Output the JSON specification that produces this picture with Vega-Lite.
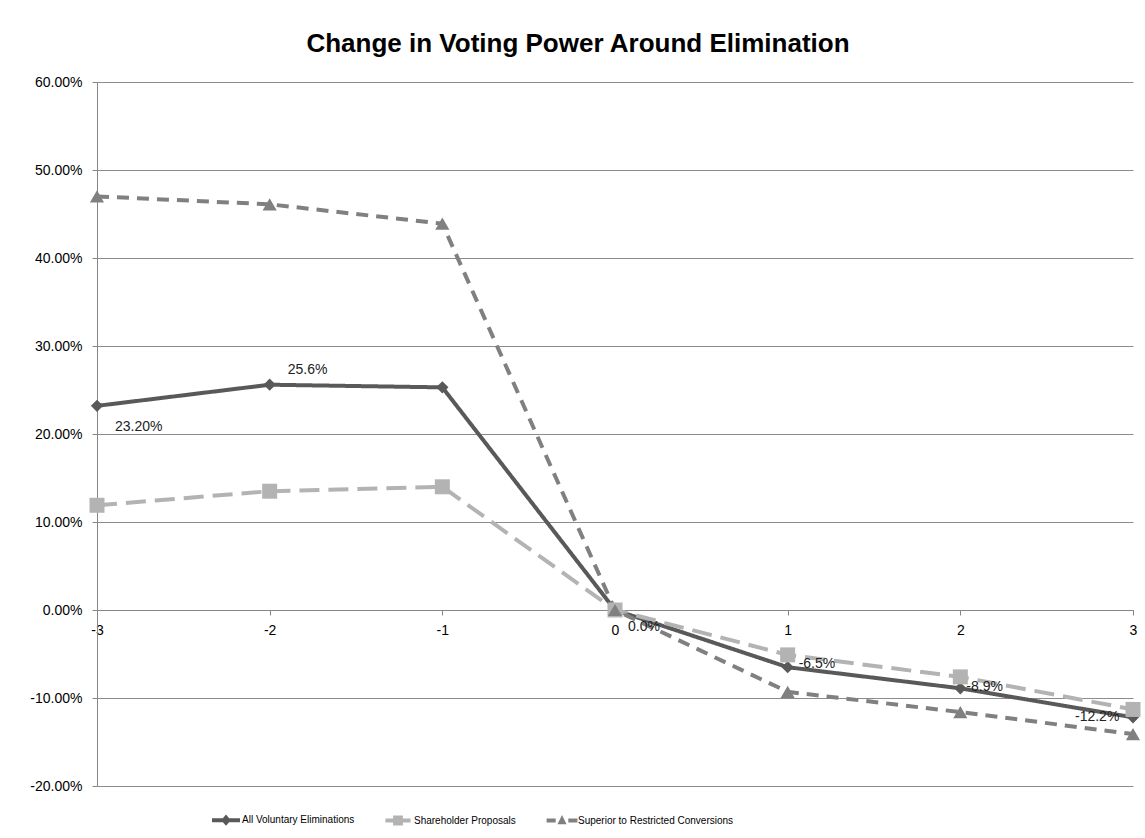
{
  "$schema": "https://vega.github.io/schema/vega-lite/v6.json",
  "width": 1036,
  "height": 704,
  "autosize": {"type": "none"},
  "padding": {"left": 97, "top": 82, "right": 12, "bottom": 52},
  "background": "white",
  "title": {
    "text": "Change in Voting Power Around Elimination",
    "font": "Liberation Sans",
    "fontSize": 26,
    "fontWeight": "bold",
    "color": "#000000",
    "anchor": "middle",
    "dx": -37,
    "offset": 18
  },
  "config": {
    "view": {"stroke": null},
    "font": "Liberation Sans"
  },
  "data": {
    "values": [
      {"series": "All Voluntary Eliminations", "t": -3, "v": 0.232, "label": "23.20%", "pos": "below"},
      {"series": "All Voluntary Eliminations", "t": -2, "v": 0.256, "label": "25.6%", "pos": "above"},
      {"series": "All Voluntary Eliminations", "t": -1, "v": 0.253, "label": "", "pos": "none"},
      {"series": "All Voluntary Eliminations", "t": 0, "v": 0.0, "label": "0.0%", "pos": "below0"},
      {"series": "All Voluntary Eliminations", "t": 1, "v": -0.065, "label": "-6.5%", "pos": "right"},
      {"series": "All Voluntary Eliminations", "t": 2, "v": -0.089, "label": "-8.9%", "pos": "right2"},
      {"series": "All Voluntary Eliminations", "t": 3, "v": -0.122, "label": "-12.2%", "pos": "left"},
      {"series": "Shareholder Proposals", "t": -3, "v": 0.119, "label": "", "pos": "none"},
      {"series": "Shareholder Proposals", "t": -2, "v": 0.135, "label": "", "pos": "none"},
      {"series": "Shareholder Proposals", "t": -1, "v": 0.140, "label": "", "pos": "none"},
      {"series": "Shareholder Proposals", "t": 0, "v": 0.0, "label": "", "pos": "none"},
      {"series": "Shareholder Proposals", "t": 1, "v": -0.051, "label": "", "pos": "none"},
      {"series": "Shareholder Proposals", "t": 2, "v": -0.076, "label": "", "pos": "none"},
      {"series": "Shareholder Proposals", "t": 3, "v": -0.113, "label": "", "pos": "none"},
      {"series": "Superior to Restricted Conversions", "t": -3, "v": 0.470, "label": "", "pos": "none"},
      {"series": "Superior to Restricted Conversions", "t": -2, "v": 0.461, "label": "", "pos": "none"},
      {"series": "Superior to Restricted Conversions", "t": -1, "v": 0.439, "label": "", "pos": "none"},
      {"series": "Superior to Restricted Conversions", "t": 0, "v": 0.0, "label": "", "pos": "none"},
      {"series": "Superior to Restricted Conversions", "t": 1, "v": -0.093, "label": "", "pos": "none"},
      {"series": "Superior to Restricted Conversions", "t": 2, "v": -0.116, "label": "", "pos": "none"},
      {"series": "Superior to Restricted Conversions", "t": 3, "v": -0.141, "label": "", "pos": "none"}
    ]
  },
  "encoding": {
    "x": {
      "field": "t",
      "type": "quantitative",
      "scale": {"domain": [-3, 3], "nice": false, "zero": false},
      "axis": {
        "orient": "bottom",
        "offset": -176,
        "values": [-3, -2, -1, 0, 1, 2, 3],
        "labelExpr": "'' + datum.value",
        "title": null,
        "grid": false,
        "domainColor": "#868686",
        "tickColor": "#868686",
        "tickSize": 5,
        "labelPadding": 8,
        "labelFont": "Liberation Sans",
        "labelFontSize": 14,
        "labelColor": "#000000",
        "labelFlush": false,
        "labelOverlap": false
      }
    },
    "y": {
      "field": "v",
      "type": "quantitative",
      "scale": {"domain": [-0.2, 0.6], "nice": false, "zero": false},
      "axis": {
        "values": [-0.2, -0.1, 0, 0.1, 0.2, 0.3, 0.4, 0.5, 0.6],
        "format": ".2%",
        "labelExpr": "replace(datum.label, '\u2212', '-')",
        "title": null,
        "grid": true,
        "gridColor": "#8c8c8c",
        "domainColor": "#868686",
        "tickColor": "#868686",
        "tickSize": 5,
        "labelPadding": 10,
        "labelFont": "Liberation Sans",
        "labelFontSize": 14,
        "labelColor": "#000000"
      }
    }
  },
  "layer": [
    {
      "mark": {"type": "point", "filled": true, "opacity": 0},
      "encoding": {
        "color": {
          "field": "series",
          "type": "nominal",
          "scale": {
            "domain": ["All Voluntary Eliminations", "Shareholder Proposals", "Superior to Restricted Conversions"],
            "range": ["#595959", "#b3b3b3", "#808080"]
          },
          "legend": {
            "title": null,
            "orient": "none",
            "legendX": 122,
            "legendY": 731,
            "direction": "horizontal",
            "columns": 3,
            "columnPadding": 30,
            "padding": 0,
            "labelFont": "Liberation Sans",
            "labelFontSize": 10,
            "labelColor": "#000000",
            "labelLimit": 400,
            "labelOffset": 9,
            "symbolSize": 196,
            "symbolOpacity": 1,
            "symbolStrokeWidth": 0
          }
        },
        "shape": {
          "field": "series",
          "type": "nominal",
          "scale": {
            "domain": ["All Voluntary Eliminations", "Shareholder Proposals", "Superior to Restricted Conversions"],
            "range": [
              "M-2,-0.28H2V0.28H-2Z M0,-0.8L0.7,0L0,0.8L-0.7,0Z",
              "M-1.8,-0.3H1.8V0.3H-1.8Z M-0.7,-0.7H0.7V0.7H-0.7Z",
              "M-2.2,-0.28H-0.9V0.28H-2.2Z M0,-0.8L0.65,0.55L-0.65,0.55Z M0.9,-0.28H2.2V0.28H0.9Z"
            ]
          },
          "legend": {
            "title": null,
            "orient": "none",
            "legendX": 122,
            "legendY": 731,
            "direction": "horizontal",
            "columns": 3,
            "columnPadding": 30,
            "padding": 0,
            "labelFont": "Liberation Sans",
            "labelFontSize": 10,
            "labelColor": "#000000",
            "labelLimit": 400,
            "labelOffset": 9,
            "symbolSize": 196,
            "symbolOpacity": 1,
            "symbolStrokeWidth": 0
          }
        }
      }
    },
    {
      "mark": {"type": "line", "strokeWidth": 4},
      "encoding": {
        "color": {"field": "series", "type": "nominal"},
        "strokeDash": {
          "field": "series",
          "type": "nominal",
          "scale": {
            "domain": ["All Voluntary Eliminations", "Shareholder Proposals", "Superior to Restricted Conversions"],
            "range": [[1, 0], [20, 9], [12, 8]]
          },
          "legend": null
        }
      }
    },
    {
      "transform": [{"filter": "datum.series == 'All Voluntary Eliminations'"}],
      "mark": {"type": "point", "filled": true, "opacity": 1, "shape": "diamond", "size": 150},
      "encoding": {"color": {"field": "series", "type": "nominal"}}
    },
    {
      "transform": [{"filter": "datum.series == 'Shareholder Proposals'"}],
      "mark": {"type": "point", "filled": true, "opacity": 1, "shape": "square", "size": 225},
      "encoding": {"color": {"field": "series", "type": "nominal"}}
    },
    {
      "transform": [{"filter": "datum.series == 'Superior to Restricted Conversions'"}],
      "mark": {"type": "point", "filled": true, "opacity": 1, "shape": "triangle-up", "size": 200},
      "encoding": {"color": {"field": "series", "type": "nominal"}}
    },
    {
      "transform": [{"filter": "datum.pos == 'below'"}],
      "mark": {"type": "text", "align": "left", "dx": 18, "dy": 21, "fontSize": 14, "font": "Liberation Sans", "color": "#222222"},
      "encoding": {"text": {"field": "label"}}
    },
    {
      "transform": [{"filter": "datum.pos == 'above'"}],
      "mark": {"type": "text", "align": "left", "dx": 18, "dy": -15, "fontSize": 14, "font": "Liberation Sans", "color": "#222222"},
      "encoding": {"text": {"field": "label"}}
    },
    {
      "transform": [{"filter": "datum.pos == 'below0'"}],
      "mark": {"type": "text", "align": "left", "dx": 13, "dy": 17, "fontSize": 14, "font": "Liberation Sans", "color": "#222222"},
      "encoding": {"text": {"field": "label"}}
    },
    {
      "transform": [{"filter": "datum.pos == 'right'"}],
      "mark": {"type": "text", "align": "left", "dx": 11, "dy": -3, "fontSize": 14, "font": "Liberation Sans", "color": "#222222"},
      "encoding": {"text": {"field": "label"}}
    },
    {
      "transform": [{"filter": "datum.pos == 'right2'"}],
      "mark": {"type": "text", "align": "left", "dx": 6, "dy": -1, "fontSize": 14, "font": "Liberation Sans", "color": "#222222"},
      "encoding": {"text": {"field": "label"}}
    },
    {
      "transform": [{"filter": "datum.pos == 'left'"}],
      "mark": {"type": "text", "align": "left", "dx": -58, "dy": 0, "fontSize": 14, "font": "Liberation Sans", "color": "#222222"},
      "encoding": {"text": {"field": "label"}}
    }
  ]
}
